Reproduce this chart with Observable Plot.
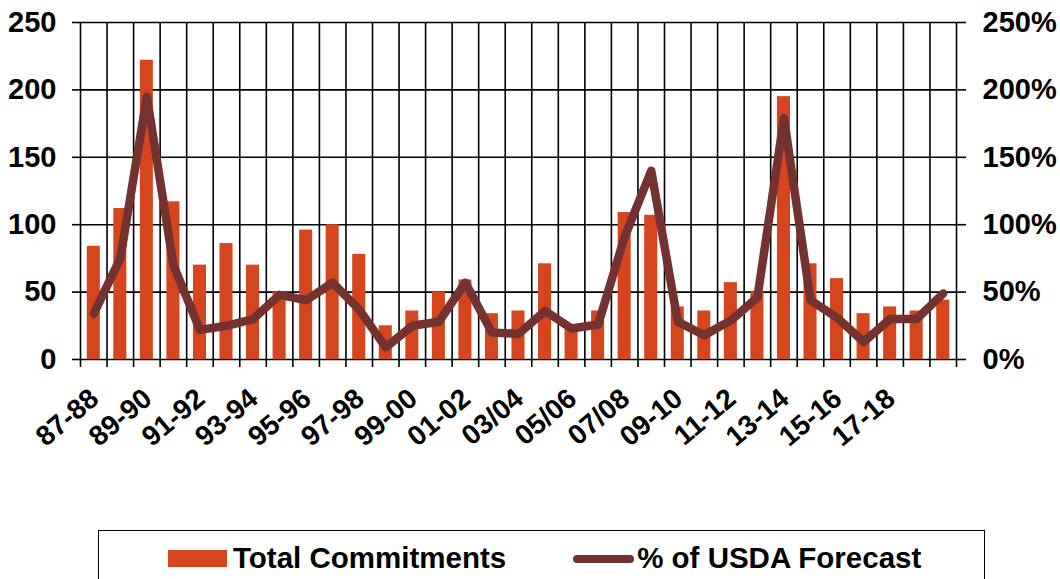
<!DOCTYPE html>
<html>
<head>
<meta charset="utf-8">
<script src="https://cdn.jsdelivr.net/npm/d3@7"></script>
<script src="https://cdn.jsdelivr.net/npm/@observablehq/plot@0.6"></script>
<style>
  html, body { margin: 0; padding: 0; background: #fff; }
  body { width: 1060px; height: 579px; overflow: hidden; font-family: "Liberation Sans", Arial, sans-serif; font-weight: bold; }
  #legend {
    position: absolute; left: 98px; top: 530px; width: 887px; height: 70px;
    border: 1.5px solid #000; box-sizing: border-box; background: #fff;
    display: flex; align-items: flex-start; padding-top: 12px; padding-left: 69px;
    font-size: 29.5px; color: #000; white-space: nowrap;
  }
  .sw-bar { width: 59px; height: 17px; background: #D5461F; margin-top: 7px; margin-right: 6px; }
  .sw-line { width: 61px; height: 8px; border-radius: 4px; background: #73312F; margin-top: 12px; margin-right: 3px; margin-left: 67px; }
  .lbl { line-height: 30px; }
</style>
</head>
<body>
<div id="chart"></div>
<div id="legend">
  <div class="sw-bar"></div><div class="lbl">Total Commitments</div>
  <div class="sw-line"></div><div class="lbl">% of USDA Forecast</div>
</div>
<script>
const categories = ["87-88","88-89","89-90","90-91","91-92","92-93","93-94","94-95","95-96","96-97","97-98","98-99","99-00","00-01","01-02","02-03","03/04","04/05","05/06","06/07","07/08","08/09","09-10","10-11","11-12","12-13","13-14","14-15","15-16","16-17","17-18","18-19","19-20"];
const totalCommitments = [84,112,222,117,70,86,70,50,96,100,78,25,36,50,59,34,36,71,26,36,109,107,39,36,57,50,195,71,60,34,39,36,44];
const pctUSDA = [34,75,195,70,22,25,30,48,44,57,37,9,25,28,57,20,19,36,23,26,91,140,28,18,29,46,179,44,31,13,30,30,49];
const xTickLabels = ["87-88","89-90","91-92","93-94","95-96","97-98","99-00","01-02","03/04","05/06","07/08","09-10","11-12","13-14","15-16","17-18"];
const yTicks = [0,50,100,150,200,250];

const barColor = "#D5461F";
const lineColor = "#73312F";

const data = categories.map((c, i) => ({c, i, v: totalCommitments[i], p: pctUSDA[i]}));
const boundaries = d3.range(categories.length + 1);

const chart = Plot.plot({
  width: 1060,
  height: 530,
  marginLeft: 80,
  marginRight: 104,
  marginTop: 22,
  marginBottom: 171,
  x: {type: "linear", domain: [0, categories.length], axis: null},
  y: {domain: [0, 250], axis: null},
  style: {fontFamily: "'Liberation Sans', Arial, sans-serif", fontWeight: "bold", fontSize: "29px", color: "#000", background: "#fff", overflow: "visible"},
  marks: [
    Plot.gridY(yTicks, {stroke: "#000", strokeOpacity: 1, strokeWidth: 1.6}),
    Plot.gridX(boundaries, {stroke: "#000", strokeOpacity: 1, strokeWidth: 1.6}),
    Plot.axisY(yTicks, {anchor: "left", tickSize: 8, tickPadding: 16, strokeWidth: 1.6, fontSize: 29, fontWeight: "bold", label: null}),
    Plot.axisY(yTicks, {anchor: "right", tickSize: 9, tickPadding: 17, strokeWidth: 1.6, fontSize: 29, fontWeight: "bold", label: null, tickFormat: d => d + "%"}),
    Plot.axisX(boundaries, {anchor: "bottom", tickSize: 8, strokeWidth: 1.6, tickFormat: () => "", label: null}),
    Plot.rectY(data, {x1: "i", x2: d => d.i + 1, y: "v", fill: barColor, insetLeft: 6.75, insetRight: 6.75}),
    Plot.line(data, {x: d => d.i + 0.5, y: "p", stroke: lineColor, strokeWidth: 8.5, strokeLinejoin: "round", strokeLinecap: "round"}),
    Plot.text(xTickLabels, {x: d => categories.indexOf(d) + 0.5, y: () => 0, text: d => d, rotate: -40, textAnchor: "end", lineAnchor: "middle", dx: 1, dy: 35, fontSize: 28, fontWeight: "bold", fill: "#000"})
  ]
});
document.getElementById("chart").appendChild(chart);
</script>
</body>
</html>
